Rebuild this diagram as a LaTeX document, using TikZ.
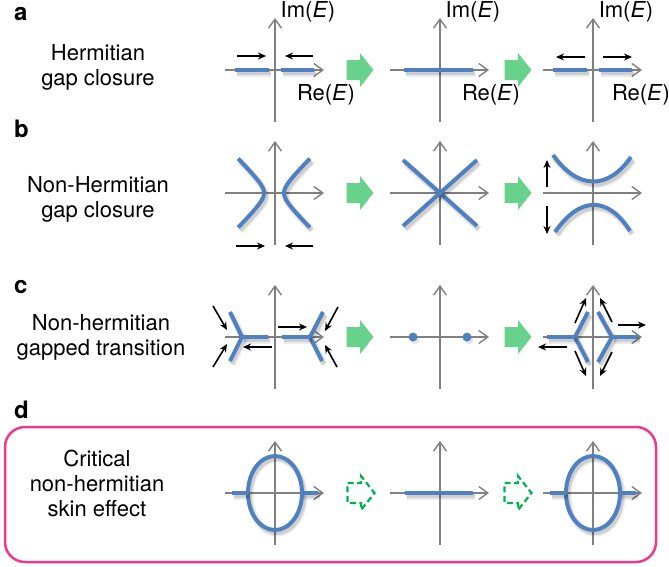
\documentclass[tikz,border=0pt]{standalone}
\usepackage{fontspec}
\setmainfont{TeX Gyre Heros}
\usetikzlibrary{arrows.meta,shadows}
\definecolor{bandblue}{RGB}{79,129,193}
\definecolor{axisgray}{RGB}{128,128,128}
\definecolor{stepgreen}{RGB}{104,209,140}
\definecolor{dashgreen}{RGB}{0,178,80}
\definecolor{framepink}{RGB}{238,56,140}
\begin{document}
\begin{tikzpicture}
  [x=1pt, y=-1pt,
   axis/.style={draw=axisgray, line width=1.4pt, -{Straight Barb[length=9pt,width=13pt]}},
   band/.style={draw=bandblue, line width=4pt,
     preaction={draw=black, opacity=0.08, line width=7pt, transform canvas={shift={(2pt,-3pt)}}},
     preaction={draw=black, opacity=0.12, line width=4pt, transform canvas={shift={(2pt,-3pt)}}}},
   push/.style={line width=1.6pt, -{Stealth[length=8pt,width=7pt]}},
   dot/.style={circle, fill=bandblue, inner sep=0pt, minimum size=9pt,
     drop shadow={opacity=0.2, shadow xshift=2pt, shadow yshift=-3pt}},
   panel/.style={font=\fontsize{22}{25}\selectfont, align=center, inner sep=0pt},
   tag/.style={font=\fontsize{24}{28}\selectfont\bfseries, anchor=base west, inner sep=0pt},
   axlabel/.style={font=\fontsize{22}{26}\selectfont, inner sep=0pt},
   stepper/.pic={\path[pic actions] (-13.5,-10) -- (0,-10) -- (0,-17) -- (13.5,0)
     -- (0,17) -- (0,10) -- (-13.5,10) -- cycle;}]

  \useasboundingbox (0,0) rectangle (669,566);

  % row labels
  \node[tag] (ta) at (14,20) {a};
  \node[tag] (tb) at (14,137) {b};
  \node[tag] (tc) at (14,293) {c};
  \node[tag] (td) at (14,418) {d};
  \node[panel] (la) at (98,67) {Hermitian\\gap closure};
  \node[panel] (lb) at (98,199) {Non-Hermitian\\gap closure};
  \node[panel] (lc) at (101,337) {Non-hermitian\\gapped transition};
  \node[panel] (ld) at (97,483) {Critical\\non-hermitian\\skin effect};

  \draw[framepink, line width=2.5pt, rounded corners=20pt] (5,427) rectangle (656,562);

  % axes
  \foreach \row/\cy in {a/70, b/193, c/337, d/493}
    \foreach \col/\cx in {1/275, 2/440, 3/593} {
      \coordinate (\row\col) at (\cx,\cy);
      \draw[axis] ([xshift=-50pt]\row\col) -- ([xshift=49pt]\row\col);
      \draw[axis] ([yshift=-52pt]\row\col) -- ([yshift=52pt]\row\col);
    }
  \foreach \cx/\dx in {275/51, 440/51, 593/48} {
    \node[axlabel] (im\cx) at (\cx+33,12) {Im(\textit{E})};
    \node[axlabel] (re\cx) at (\cx+\dx,95) {Re(\textit{E})};
  }

  % transitions
  \foreach \gx/\gy in {360/70, 360/193, 360/337, 518/70, 518/193, 518/337}
    \pic[fill=stepgreen] at (\gx,\gy) {stepper};
  \foreach \gx in {361, 518}
    \pic[draw=dashgreen, line width=2.2pt, dash pattern=on 6pt off 3.5pt] at (\gx,493) {stepper};

  % a
  \draw[band] (235,70) -- (269,70);
  \draw[band] (281,70) -- (314,70);
  \draw[push] (237,56) -- (266,56);
  \draw[push] (313,56) -- (285,56);
  \draw[band] (404,70) -- (473,70);
  \draw[band] (553,70) -- (587,70);
  \draw[band] (599,70) -- (632,70);
  \draw[push] (585,57) -- (556,57);
  \draw[push] (603,57) -- (632,57);

  % b
  \draw[band] plot[domain=-1.95:1.95, samples=40, smooth] ({274-10*cosh(\x)}, {193+10*sinh(\x)});
  \draw[band] plot[domain=-1.95:1.95, samples=40, smooth] ({274+10*cosh(\x)}, {193+10*sinh(\x)});
  \draw[push] (236,246) -- (265,246);
  \draw[push] (313,246) -- (285,246);
  \draw[band] (403,160) -- (477,226);
  \draw[band] (403,226) -- (477,160);
  \draw[band] (553,155) .. controls (578,190) and (608,190) .. (631,157);
  \draw[band] (555,232) .. controls (580,196) and (608,196) .. (630,231);
  \draw[push] (547,187) -- (547,160);
  \draw[push] (547,206) -- (547,234);

  % c
  \draw[band] (230,312) -- (242,337) -- (230,361);
  \draw[band] (242,337) -- (268,337);
  \draw[band] (323,312) -- (310,337) -- (322,361);
  \draw[band] (310,337) -- (282,337);
  \draw[push] (213,306) -- (227,330);
  \draw[push] (213,367) -- (227,344);
  \draw[push] (338,307) -- (325,331);
  \draw[push] (337,367) -- (325,345);
  \draw[push] (278,327) -- (307,327);
  \draw[push] (272,347) -- (243,347);
  \node[dot] (p1) at (413,337) {};
  \node[dot] (p2) at (467,337) {};
  \draw[band] (588,312) -- (575,337) -- (588,362);
  \draw[band] (547,337) -- (575,337);
  \draw[band] (598,312) -- (612,337) -- (598,362);
  \draw[band] (612,337) -- (638,337);
  \draw[push] (575,323) -- (586,298);
  \draw[push] (612,322) -- (600,298);
  \draw[push] (575,351) -- (586,376);
  \draw[push] (612,352) -- (600,376);
  \draw[push] (618,325) -- (646,325);
  \draw[push] (567,347) -- (538,347);

  % d
  \draw[band] (275,493) ellipse [x radius=27, y radius=37];
  \draw[band] (232,493) -- (248,493);
  \draw[band] (302,493) -- (318,493);
  \draw[band] (405,493) -- (473,493);
  \draw[band] (593,493) ellipse [x radius=27, y radius=37];
  \draw[band] (550,493) -- (566,493);
  \draw[band] (620,493) -- (636,493);
\end{tikzpicture}
\end{document}
